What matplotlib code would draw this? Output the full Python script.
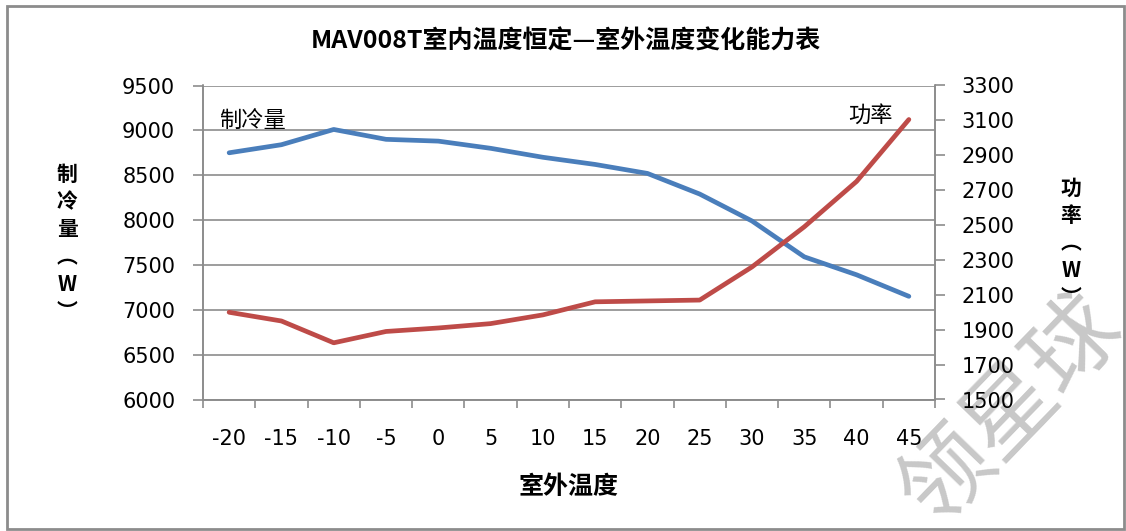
import matplotlib.pyplot as plt
from matplotlib.patches import Rectangle
import numpy as np

plt.rcParams['font.family'] = ['Noto Sans CJK SC', 'DejaVu Sans']

# outdoor temperature categories
temps = ["-20", "-15", "-10", "-5", "0", "5", "10", "15", "20", "25", "30", "35", "40", "45"]
# cooling capacity (W), left axis
cooling = [8750, 8840, 9010, 8900, 8880, 8800, 8700, 8620, 8520, 8290, 7990, 7590, 7390, 7150]
# power (W), right axis
power = [2000, 1950, 1825, 1890, 1910, 1935, 1985, 2060, 2065, 2070, 2260, 2490, 2750, 3105]

W, H = 1126, 531


def fx(x):
    return x / W


def fy(y):
    return 1 - y / H


fig = plt.figure(figsize=(W / 100, H / 100), dpi=100)
fig.patch.set_facecolor('white')

ax = fig.add_axes([fx(203), fy(399.5), fx(935) - fx(203), fy(85.5) - fy(399.5)])
ax.set_facecolor('none')
ax2 = ax.twinx()

x = np.arange(len(temps))
grid_c = '#8c8c8c'

ax.plot(x, cooling, color='#4A7EBB', lw=3.4, solid_capstyle='round', zorder=3)
ax2.plot(x, power, color='#BE4B48', lw=3.4, solid_capstyle='round', zorder=3)

ax.set_xlim(-0.5, len(temps) - 0.5)
ax.set_ylim(6000, 9500)
ax.set_yticks(np.arange(6000, 9501, 500))
ax2.set_ylim(1500, 3300)
ax2.set_yticks(np.arange(1500, 3301, 200))

ax.set_xticks(x)
ax.set_xticklabels(temps, fontsize=15, family='DejaVu Sans')
ax.set_xticks(np.arange(-0.5, len(temps), 1), minor=True)
ax.tick_params(axis='x', which='major', length=0, pad=21)
ax.tick_params(axis='x', which='minor', length=6, color=grid_c, width=1.2)
ax.tick_params(axis='y', length=7, color=grid_c, width=1.2, pad=13, labelsize=15)
ax2.tick_params(axis='y', length=7, color=grid_c, width=1.2, pad=12, labelsize=15)
for lab in ax.get_yticklabels() + ax2.get_yticklabels():
    lab.set_family('DejaVu Sans')

ax.grid(axis='y', color=grid_c, lw=1.2)
ax.set_axisbelow(True)
for a in (ax, ax2):
    a.spines['top'].set_visible(False)
    for s in ('left', 'right', 'bottom'):
        a.spines[s].set_color(grid_c)
        a.spines[s].set_linewidth(1.2)

# titles and labels
fig.text(fx(566), fy(42), "MAV008T室内温度恒定—室外温度变化能力表", fontsize=18,
         fontweight='bold', ha='center', va='center')
fig.text(fx(568), fy(487), "室外温度", fontsize=18, fontweight='bold',
         ha='center', va='center')
fig.text(fx(67), fy(243), "制\n冷\n量\n︵\nW\n︶", fontsize=15, fontweight='bold',
         ha='center', va='center', linespacing=1.38)
fig.text(fx(1071), fy(243), "功\n率\n︵\nW\n︶", fontsize=15, fontweight='bold',
         ha='center', va='center', linespacing=1.38)

# series annotations
fig.text(fx(219), fy(120), "制冷量", fontsize=16, ha='left', va='center')
fig.text(fx(893), fy(115), "功率", fontsize=16, ha='right', va='center')

# watermark
fig.text(fx(1012), fy(410), "领星球", fontsize=66, color='#c8c8c8', fontweight='medium',
         rotation=46, rotation_mode='anchor', ha='center', va='center', zorder=-1)

# chart border
fig.patches.append(Rectangle((fx(7), fy(529)), fx(1124) - fx(7), fy(6) - fy(529),
                             transform=fig.transFigure, fill=False,
                             edgecolor='#8c8c8c', lw=2))

fig.savefig('out.png', dpi=100)
